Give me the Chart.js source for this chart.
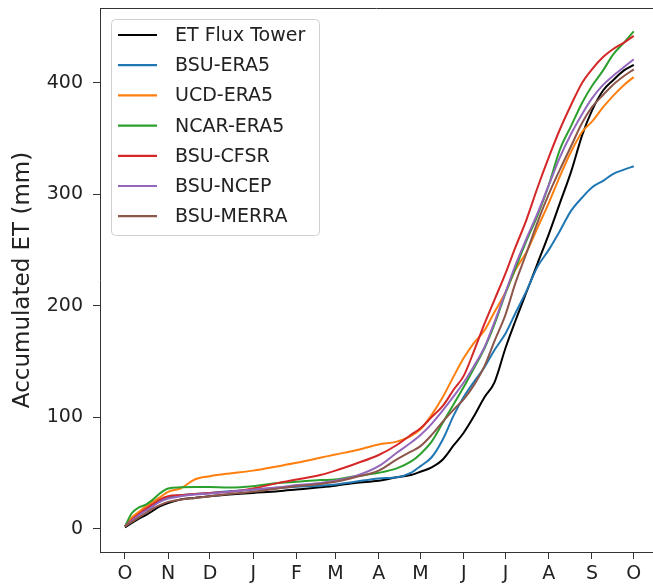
<!DOCTYPE html>
<html>
<head>
<meta charset="utf-8">
<script src="https://cdn.jsdelivr.net/npm/chart.js@4.4.1/dist/chart.umd.min.js"></script>
<style>
  html, body { margin: 0; padding: 0; background: #fff; }
  #wrap { width: 653px; height: 584px; }
</style>
</head>
<body>
<div id="wrap"><canvas id="etChart" width="653" height="584"></canvas></div>
<script>
// day of water year (0 = 1 Oct)
const days = [0, 5, 10, 15, 20, 25, 31, 40, 50, 61, 75, 92, 110, 123, 140, 151, 165, 182, 195, 205,
  212, 220, 228, 236, 243, 250, 258, 265, 273, 280, 288, 296, 304, 312, 320, 328, 335, 343, 350, 358, 365];

const monthDays = [0, 31, 61, 92, 123, 151, 182, 212, 243, 273, 304, 335, 365];
const monthLabels = ["O", "N", "D", "J", "F", "M", "A", "M", "J", "J", "A", "S", "O"];
const yTicks = [0, 100, 200, 300, 400];

const fluxTower = [1, 5, 9, 12, 16, 20, 23, 26, 27.5, 29, 30.5, 32, 33.5, 35, 37, 38.5, 41, 43, 46, 48,
  51, 55, 62, 75, 86, 100, 118, 131, 162, 186, 212, 238, 264, 292, 320, 353, 375, 393, 402, 411, 416];
const bsuEra5 = [2, 8, 13, 17, 21, 25, 28, 30, 31, 32, 33.5, 35, 36.5, 37.5, 38.5, 39.5, 42, 45, 46, 50,
  56, 64, 80, 102, 118, 131, 145, 160, 175, 193, 213, 235, 250, 267, 285, 297, 306, 312, 318, 322, 325];
const ucdEra5 = [2, 10, 15, 20, 24, 28, 33, 36, 44, 47, 49.5, 52, 56, 59, 63.5, 66.5, 70, 75.5, 78, 83,
  89, 102, 118, 137, 153, 166, 178, 194, 212, 232, 248, 270, 292, 316, 338, 356, 365, 378, 388, 398, 405];
const ncarEra5 = [2, 14, 19, 21.5, 26, 31.5, 36, 37, 37.3, 37.2, 36.8, 38, 41, 42, 43.5, 44, 47, 50, 54, 60,
  67, 78, 95, 112, 127, 143, 162, 183, 211, 233, 258, 281, 308, 340, 361, 382, 397, 411, 425, 436, 446];
const bsuCfsr = [2, 8, 13, 18, 22, 26, 29, 30, 31, 32, 33, 36, 41, 44, 48, 52, 58, 66, 75, 84,
  90, 100, 110, 125, 137, 158, 184, 205, 229, 252, 277, 306, 333, 358, 380, 400, 412, 423, 430, 436, 442];
const bsuNcep = [2, 7, 12, 16, 20, 24, 27, 29, 30.5, 31.5, 33, 35, 37, 39, 41, 43, 47, 56, 68, 77,
  84, 94, 106, 119, 131, 145, 163, 185, 212, 236, 260, 283, 308, 333, 354, 372, 386, 398, 406, 414, 421];
const bsuMerra = [2, 6, 10, 14, 18, 21, 24, 26, 27.5, 29, 31, 33, 36, 38, 40, 42, 46, 52, 62, 69,
  74, 84, 96, 107, 116, 128, 146, 168, 192, 220, 247, 275, 300, 322, 343, 364, 378, 389, 398, 406, 412];

const seriesNames = ["ET Flux Tower", "BSU-ERA5", "UCD-ERA5", "NCAR-ERA5", "BSU-CFSR", "BSU-NCEP", "BSU-MERRA"];
const seriesValues = [fluxTower, bsuEra5, ucdEra5, ncarEra5, bsuCfsr, bsuNcep, bsuMerra];
const colors = ["#000000", "#1f77b4", "#ff7f0e", "#2ca02c", "#d62728", "#9467bd", "#8c564b"];

const FONT = "'DejaVu Sans', sans-serif";
const AXIS = "#333333";

const datasets = seriesNames.map((name, i) => ({
  label: name,
  data: days.map((d, k) => ({ x: d, y: seriesValues[i][k] })),
  borderColor: colors[i],
  backgroundColor: colors[i],
  borderWidth: 2,
  pointRadius: 0,
  cubicInterpolationMode: "monotone",
  order: seriesNames.length - 1 - i,
}));

// top spine + framed legend like matplotlib
const framePlugin = {
  id: "frame",
  afterDraw(chart) {
    const { ctx, chartArea: a } = chart;
    ctx.save();
    ctx.strokeStyle = AXIS;
    ctx.lineWidth = 1;
    ctx.beginPath();
    ctx.moveTo(a.left, a.top + 0.5);
    ctx.lineTo(a.right, a.top + 0.5);
    ctx.stroke();

    const bx = 111, by = 19, bw = 208, bh = 216;
    ctx.beginPath();
    ctx.roundRect(bx + 0.5, by + 0.5, bw, bh, 4);
    ctx.fillStyle = "rgba(255,255,255,0.8)";
    ctx.fill();
    ctx.strokeStyle = "#d0d0d0";
    ctx.stroke();

    ctx.font = "19px " + FONT;
    ctx.textBaseline = "middle";
    ctx.textAlign = "left";
    seriesNames.forEach((name, i) => {
      const y = 35 + i * 30.2;
      ctx.strokeStyle = colors[i];
      ctx.lineWidth = 2.2;
      ctx.beginPath();
      ctx.moveTo(118, y);
      ctx.lineTo(157, y);
      ctx.stroke();
      ctx.fillStyle = "#222";
      ctx.fillText(name, 175, y + 1);
    });
    ctx.restore();
  },
};

const ctx = document.getElementById("etChart").getContext("2d");
new Chart(ctx, {
  type: "line",
  data: { datasets },
  options: {
    responsive: false,
    animation: false,
    devicePixelRatio: 1,
    layout: { padding: { top: 8, right: 0, bottom: 0, left: 0 } },
    plugins: {
      legend: { display: false },
      tooltip: { enabled: false },
    },
    scales: {
      x: {
        type: "linear",
        min: -17.9,
        max: 378.8,
        afterBuildTicks: (scale) => {
          scale.ticks = monthDays.map((v) => ({ value: v }));
        },
        afterFit: (scale) => {
          scale.height = 32;
          scale.paddingLeft = 0;
          scale.paddingRight = 0;
        },
        grid: {
          drawOnChartArea: false,
          drawTicks: true,
          tickLength: 7,
          tickColor: AXIS,
        },
        border: { display: true, color: AXIS, width: 1 },
        ticks: {
          autoSkip: false,
          maxRotation: 0,
          padding: 4,
          color: "#222",
          font: { family: FONT, size: 19 },
          callback: (v) => monthLabels[monthDays.indexOf(v)],
        },
      },
      y: {
        type: "linear",
        min: -21,
        max: 467,
        afterBuildTicks: (scale) => {
          scale.ticks = yTicks.map((v) => ({ value: v }));
        },
        afterFit: (scale) => {
          scale.width = 100;
          scale.paddingTop = 0;
          scale.paddingBottom = 0;
        },
        grid: {
          drawOnChartArea: false,
          drawTicks: true,
          tickLength: 7,
          tickColor: AXIS,
        },
        border: { display: true, color: AXIS, width: 1 },
        ticks: {
          padding: 10,
          color: "#222",
          font: { family: FONT, size: 19 },
        },
        title: {
          display: true,
          text: "Accumulated ET (mm)",
          color: "#222",
          font: { family: FONT, size: 23 },
          padding: { top: 9, bottom: 0 },
        },
      },
    },
  },
  plugins: [framePlugin],
});
</script>
</body>
</html>
